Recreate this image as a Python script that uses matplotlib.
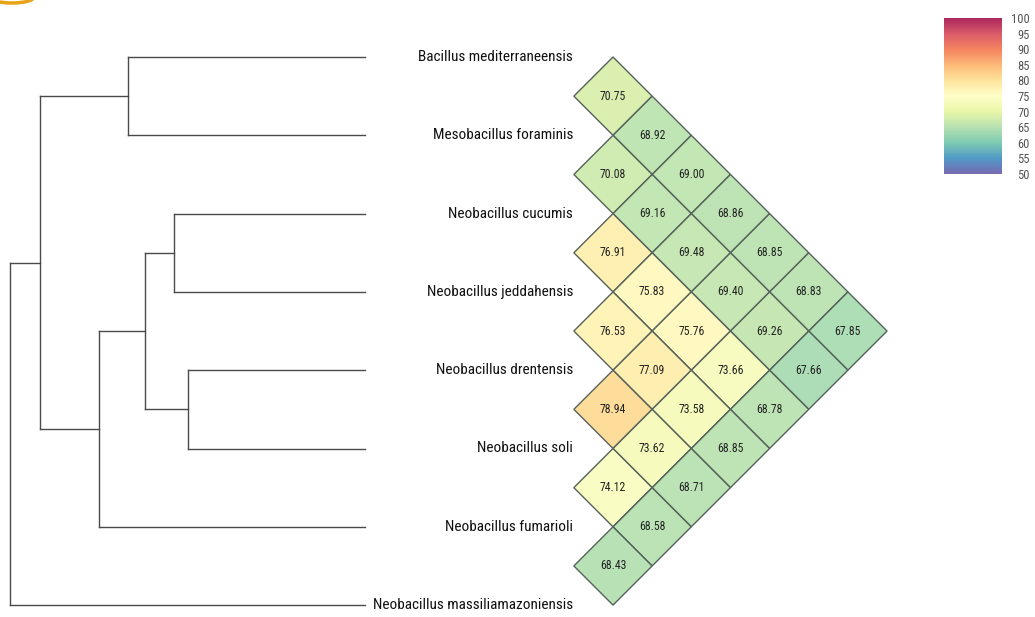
import numpy as np
import matplotlib
matplotlib.use('Agg')
import matplotlib.pyplot as plt
from matplotlib import font_manager as fm
from matplotlib.patches import Polygon, Arc
from matplotlib import colors

# pick a narrow font if one is around
have = {f.name for f in fm.fontManager.ttflist}
narrow = [n for n in ['Liberation Sans Narrow', 'Roboto Condensed', 'Open Sans Condensed',
                      'DejaVu Sans Condensed'] if n in have]
plt.rcParams['font.family'] = narrow + ['DejaVu Sans']
plt.rcParams['font.stretch'] = 'condensed'

# leaves, top to bottom (dendrogram order)
species = ['Bacillus mediterraneensis', 'Mesobacillus foraminis', 'Neobacillus cucumis',
           'Neobacillus jeddahensis', 'Neobacillus drentensis', 'Neobacillus soli',
           'Neobacillus fumarioli', 'Neobacillus massiliamazoniensis']

# merges: (left child, right child, height) ; children < 8 are leaves, >= 8 earlier merges
merges = [(0, 1, 0.668),
          (2, 3, 0.538),
          (4, 5, 0.499),
          (9, 10, 0.620),
          (11, 6, 0.749),
          (8, 12, 0.915),
          (13, 7, 1.000)]

# pairwise identity values (row i vs col j>i)
pairs = [(0, 1, 70.75), (0, 2, 68.92), (0, 3, 69.00), (0, 4, 68.86), (0, 5, 68.85),
         (0, 6, 68.83), (0, 7, 67.85),
         (1, 2, 70.08), (1, 3, 69.16), (1, 4, 69.48), (1, 5, 69.40), (1, 6, 69.26),
         (1, 7, 67.66),
         (2, 3, 76.91), (2, 4, 75.83), (2, 5, 75.76), (2, 6, 73.66), (2, 7, 68.78),
         (3, 4, 76.53), (3, 5, 77.09), (3, 6, 73.58), (3, 7, 68.85),
         (4, 5, 78.94), (4, 6, 73.62), (4, 7, 68.71),
         (5, 6, 74.12), (5, 7, 68.58),
         (6, 7, 68.43)]

vmin, vmax = 50, 100
cbar_ticks = [100, 95, 90, 85, 80, 75, 70, 65, 60, 55, 50]

W, H = 1035, 617
fig = plt.figure(figsize=(W / 100, H / 100), dpi=100)
ax = fig.add_axes([0, 0, 1, 1])
ax.set_xlim(0, W)
ax.set_ylim(H, 0)
ax.axis('off')

# little orange sliver peeking in at the top-left corner
ax.add_patch(Arc((12, -3), 44, 12, theta1=0, theta2=180, color='#e8a317', lw=2.5))

# layout
y0, step = 57, 78.3
tip_x, root_x = 365, 10
leaf_y = [y0 + i * step for i in range(len(species))]

def hx(h):
    return tip_x - h * (tip_x - root_x)

node_x = {i: tip_x for i in range(len(species))}
node_y = {i: leaf_y[i] for i in range(len(species))}
lc = '#4a4a4a'
for k, (a, b, h) in enumerate(merges):
    nid = len(species) + k
    x = hx(h)
    ax.plot([x, x], [node_y[a], node_y[b]], color=lc, lw=1)
    ax.plot([x, node_x[a]], [node_y[a], node_y[a]], color=lc, lw=1)
    ax.plot([x, node_x[b]], [node_y[b], node_y[b]], color=lc, lw=1)
    node_x[nid] = x
    node_y[nid] = (node_y[a] + node_y[b]) / 2

label_x = 573
for i, name in enumerate(species):
    ax.text(label_x, leaf_y[i], name, ha='right', va='center', fontsize=11,
            color='#111111',
            bbox=dict(facecolor='white', edgecolor='none', pad=0.2))

# diamonds
cmap = plt.get_cmap('Spectral_r')
cell_norm = colors.Normalize(59, 91)
half = step / 2
x0 = 613
for i, j, v in pairs:
    cx = x0 + (j - i - 1) * half
    cy = (leaf_y[i] + leaf_y[j]) / 2
    pts = [(cx, cy - half), (cx + half, cy), (cx, cy + half), (cx - half, cy)]
    ax.add_patch(Polygon(pts, closed=True, facecolor=cmap(cell_norm(v)), alpha=0.8,
                         edgecolor='none'))
    ax.add_patch(Polygon(pts, closed=True, fill=False, edgecolor='#55625a', lw=1))
    ax.text(cx, cy, f'{v:.2f}', ha='center', va='center', fontsize=8.5, color='#222222')

# colorbar
cax = fig.add_axes([944 / W, 1 - 174 / H, 58 / W, 156 / H])
grad = np.linspace(vmin, vmax, 256).reshape(-1, 1)
cax.imshow(grad, aspect='auto', cmap=cmap, norm=colors.Normalize(vmin, vmax),
           origin='lower', extent=[0, 1, vmin, vmax], alpha=0.85)
cax.set_xticks([])
cax.yaxis.tick_right()
cax.set_yticks(cbar_ticks)
cax.tick_params(axis='y', length=0, labelsize=9, labelcolor='#555555', pad=20)
for lab in cax.get_yticklabels():
    lab.set_horizontalalignment('right')
for s in cax.spines.values():
    s.set_visible(False)

fig.savefig('out.png', dpi=100)
